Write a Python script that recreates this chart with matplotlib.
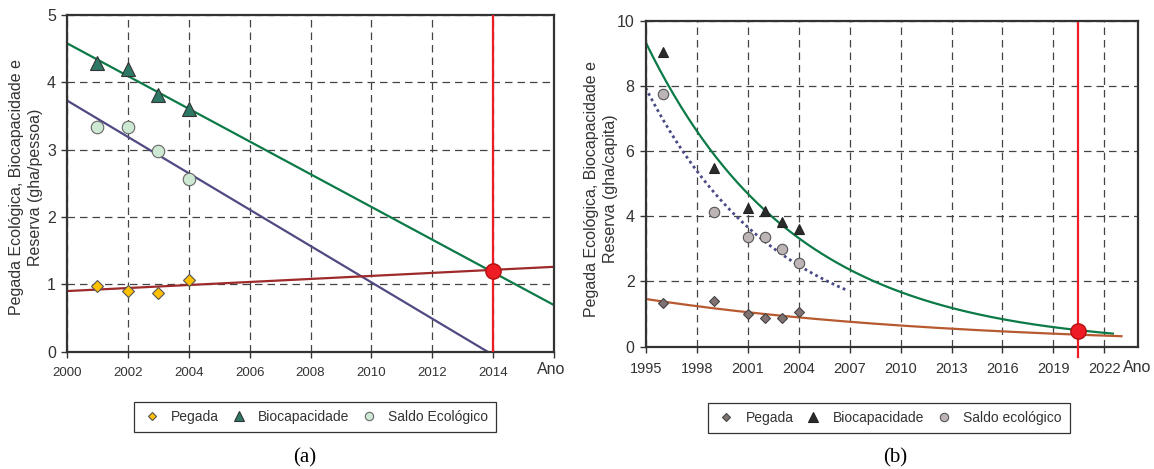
import numpy as np
import matplotlib.pyplot as plt
from matplotlib.lines import Line2D

plt.rcParams['font.family'] = ['Liberation Sans', 'DejaVu Sans']

# (a) valores anuais, gha/pessoa
anos_a = np.array([2001, 2002, 2003, 2004])
pegada_a = np.array([0.98, 0.906, 0.876, 1.065])
biocap_a = np.array([4.28, 4.20, 3.81, 3.60])
saldo_a = np.array([3.34, 3.34, 2.98, 2.56])
limite_a = (2014, 1.2)

# (b) valores anuais, gha/capita
anos_b = np.array([1996, 1999, 2001, 2002, 2003, 2004])
pegada_b = np.array([1.33, 1.41, 0.99, 0.87, 0.87, 1.05])
biocap_b = np.array([9.05, 5.49, 4.24, 4.17, 3.82, 3.60])
saldo_b = np.array([7.75, 4.13, 3.36, 3.36, 2.99, 2.58])
limite_b = (2020.44, 0.48)

VERMELHO = '#EE1C25'


def estilo(ax):
    for s in ax.spines.values():
        s.set_linewidth(1.6)
        s.set_color('#333333')
    ax.grid(True, color='#444444', linestyle=(0, (6, 4)), linewidth=0.9)
    ax.set_axisbelow(True)
    ax.tick_params(direction='out', length=4, width=1, color='#333333',
                   labelcolor='#333333')


def reta(x, y, xs):
    a, b = np.polyfit(x, y, 1)
    return a * xs + b


def expo(x, y, xs, x0=1995):
    k, c = np.polyfit(x - x0, np.log(y), 1)
    return np.exp(c) * np.exp(k * (xs - x0))


fig = plt.figure(figsize=(11.54, 4.69), dpi=100)

# ---------------- (a) ----------------
ax1 = fig.add_axes([0.0581, 0.2501, 0.4220, 0.7179])
estilo(ax1)
xs = np.linspace(2000, 2016, 200)
ax1.plot(xs, reta(anos_a, biocap_a, xs), color='#0B7A47', lw=1.6, zorder=2)
ax1.plot(xs, reta(anos_a, saldo_a, xs), color='#4F4A82', lw=1.6, zorder=2)
ax1.plot(xs, reta(anos_a, pegada_a, xs), color='#9E2A2B', lw=1.6, zorder=2)
ax1.plot([limite_a[0]] * 2, [0, 5], color=VERMELHO, lw=1.6, zorder=3)

ax1.plot(anos_a, pegada_a, 'D', ms=6.5, mfc='#FFC000', mec='#555555', mew=0.8, zorder=4)
ax1.plot(anos_a, biocap_a, '^', ms=9.5, mfc='#2E7866', mec='#333333', mew=0.8, zorder=4)
ax1.plot(anos_a, saldo_a, 'o', ms=9, mfc='#CDE8D3', mec='#666666', mew=0.8, zorder=4)
ax1.plot(*limite_a, 'o', ms=11, mfc=VERMELHO, mec='#B01010', mew=1, zorder=5)

ax1.set_xlim(2000, 2016)
ax1.set_ylim(0, 5)
ax1.set_xticks(range(2000, 2017, 2))
ax1.set_xticklabels([str(a) for a in range(2000, 2015, 2)] + [''], fontsize=9.5)
ax1.set_yticks(range(0, 6))
ax1.tick_params(axis='y', labelsize=11.5, pad=4)
ax1.tick_params(axis='x', pad=7)

# ---------------- (b) ----------------
ax2 = fig.add_axes([0.5595, 0.2608, 0.4270, 0.6951])
estilo(ax2)
xb_bio = np.linspace(1995, 2022.5, 200)
xb_saldo = np.linspace(1995, 2006.9, 100)
xb_peg = np.linspace(1995, 2023, 200)
ax2.plot(xb_bio, expo(anos_b, biocap_b, xb_bio), color='#0B7A47', lw=1.6, zorder=2)
ax2.plot(xb_saldo, expo(anos_b, saldo_b, xb_saldo),
         color='#4A4A86', lw=2, linestyle=(0, (1, 1.2)), zorder=2)
ax2.plot(xb_peg, expo(anos_b, pegada_b, xb_peg), color='#B85A30', lw=1.6, zorder=2)
ax2.plot([limite_b[0]] * 2, [-0.32, 9.93], color=VERMELHO, lw=1.6, zorder=3, clip_on=False)

ax2.plot(anos_b, pegada_b, 'D', ms=5.3, mfc='#7F7270', mec='#444444', mew=0.8, zorder=4)
ax2.plot(anos_b, biocap_b, '^', ms=7.5, mfc='#2B2B2B', mec='#222222', mew=0.8, zorder=4)
ax2.plot(anos_b, saldo_b, 'o', ms=7.5, mfc='#BDB5B5', mec='#555555', mew=0.8, zorder=4)
ax2.plot(*limite_b, 'o', ms=11, mfc=VERMELHO, mec='#B01010', mew=1, zorder=5, clip_on=False)

ax2.set_xlim(1995, 2024)
ax2.set_ylim(0, 10)
ax2.set_xticks(range(1995, 2023, 3))
ax2.tick_params(axis='x', labelsize=10.5, pad=7)
ax2.set_yticks(range(0, 11, 2))
ax2.tick_params(axis='y', labelsize=11.5, pad=4)

# títulos dos eixos
fig.text(26 / 1154, 1 - 187 / 469, 'Pegada Ecológica, Biocapacidade e\nReserva (gha/pessoa)',
         rotation=90, ha='center', va='center', multialignment='center',
         fontsize=11.5, linespacing=1.4, color='#333333')
fig.text(601 / 1154, 1 - 189 / 469, 'Pegada Ecológica, Biocapacidade e\nReserva (gha/capita)',
         rotation=90, ha='center', va='center', multialignment='center',
         fontsize=11.5, linespacing=1.4, color='#333333')
fig.text(551 / 1154, 1 - 369 / 469, 'Ano', fontsize=11.5, ha='center', va='center', color='#333333')
fig.text(1137 / 1154, 1 - 367 / 469, 'Ano', fontsize=11.5, ha='center', va='center', color='#333333')

# legendas
leg_a = [Line2D([], [], ls='none', marker='D', ms=4.5, mfc='#FFC000', mec='#555555', mew=0.8),
         Line2D([], [], ls='none', marker='^', ms=6.5, mfc='#2E7866', mec='#333333', mew=0.8),
         Line2D([], [], ls='none', marker='o', ms=6, mfc='#CDE8D3', mec='#666666', mew=0.8)]
leg_b = [Line2D([], [], ls='none', marker='D', ms=4.5, mfc='#7F7270', mec='#444444', mew=0.8),
         Line2D([], [], ls='none', marker='^', ms=6.5, mfc='#2B2B2B', mec='#222222', mew=0.8),
         Line2D([], [], ls='none', marker='o', ms=6, mfc='#BDB5B5', mec='#555555', mew=0.8)]
opts = dict(loc='center', ncol=3, fancybox=False, edgecolor='#333333', fontsize=10,
            handlelength=1.4, handletextpad=0.67, columnspacing=0.74, borderpad=0.6,
            framealpha=1)
l1 = fig.legend(leg_a, ['Pegada', 'Biocapacidade', 'Saldo Ecológico'],
                bbox_to_anchor=(315 / 1154, 1 - 417 / 469), **opts)
l2 = fig.legend(leg_b, ['Pegada', 'Biocapacidade', 'Saldo ecológico'],
                bbox_to_anchor=(889 / 1154, 1 - 418 / 469), **opts)
for l in (l1, l2):
    l.get_frame().set_linewidth(0.9)
    for t in l.get_texts():
        t.set_color('#333333')

fig.text(305 / 1154, 1 - 458 / 469, '(a)', family='Liberation Serif', fontsize=15,
         ha='center', va='center')
fig.text(895 / 1154, 1 - 458 / 469, '(b)', family='Liberation Serif', fontsize=15,
         ha='center', va='center')

fig.savefig('out.png', dpi=100)
